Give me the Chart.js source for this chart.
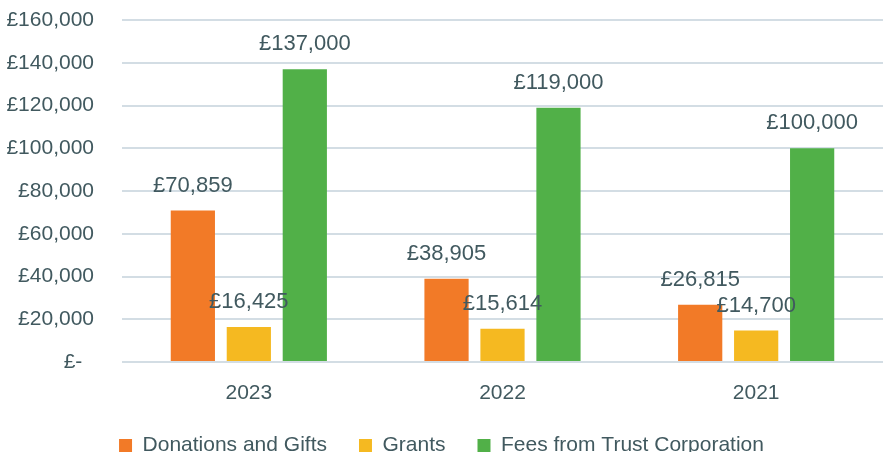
<!DOCTYPE html>
<html>
<head>
<meta charset="utf-8">
<script src="https://cdn.jsdelivr.net/npm/chart.js@4"></script>
<style>
  html, body { margin: 0; padding: 0; background: #fff; }
  #wrap { width: 883px; height: 452px; }
</style>
</head>
<body>
<div id="wrap"><canvas id="grafico"></canvas></div>
<script>
const anni = ["2023", "2022", "2021"];
const donazioni = [70859, 38905, 26815];
const contributi = [16425, 15614, 14700];
const commissioni = [137000, 119000, 100000];
const nomiSerie = ["Donations and Gifts", "Grants", "Fees from Trust Corporation"];
const coloriSerie = ["#f27a27", "#f5b921", "#51b048"];
const tickMax = 160000;
const tickStep = 20000;

const coloreTesto = "#41595f";
const fontBase = "'Liberation Sans', Arial, sans-serif";

function formatSterline(v) {
  if (v === 0) return "£-  ";
  return "£" + v.toLocaleString("en-GB");
}

// etichette sopra le barre
const etichetteBarre = {
  id: "etichetteBarre",
  afterDatasetsDraw(chart) {
    const ctx = chart.ctx;
    ctx.save();
    ctx.font = "22px " + fontBase;
    ctx.fillStyle = coloreTesto;
    ctx.textAlign = "center";
    ctx.textBaseline = "middle";
    chart.data.datasets.forEach((ds, i) => {
      const meta = chart.getDatasetMeta(i);
      meta.data.forEach((bar, j) => {
        ctx.fillText(formatSterline(ds.data[j]), bar.x, bar.y - 25);
      });
    });
    ctx.restore();
  },
};

let myChart;
let ctx = document.getElementById("grafico").getContext("2d");

myChart = new Chart(ctx, {
  type: "bar",
  data: {
    labels: anni,
    datasets: [donazioni, contributi, commissioni].map((d, i) => ({
      label: nomiSerie[i],
      data: d,
      backgroundColor: coloriSerie[i],
      borderWidth: 0,
      categoryPercentage: 0.662,
      barPercentage: 0.79,
    })),
  },
  options: {
    responsive: true,
    maintainAspectRatio: false,
    animation: false,
    layout: {
      padding: { top: 20, right: 0, left: 0, bottom: 0 },
    },
    plugins: {
      tooltip: { enabled: false },
      legend: {
        position: "bottom",
        maxHeight: 49,
        labels: {
          boxWidth: 13,
          boxHeight: 13,
          padding: 32,
          color: coloreTesto,
          font: { family: fontBase, size: 21, lineHeight: 0.9 },
        },
      },
    },
    scales: {
      x: {
        grid: { display: false, drawTicks: false },
        border: { display: false },
        ticks: {
          color: coloreTesto,
          padding: 19,
          font: { family: fontBase, size: 21 },
        },
        afterFit(s) {
          s.height = 41;
        },
      },
      y: {
        min: 0,
        max: tickMax,
        border: { display: false },
        grid: {
          color: "#d3dde4",
          lineWidth: 2,
          drawTicks: true,
          tickLength: 24,
          tickColor: "rgba(0,0,0,0)",
        },
        ticks: {
          stepSize: tickStep,
          color: coloreTesto,
          padding: 4,
          font: { family: fontBase, size: 21 },
          callback: (v) => formatSterline(v),
        },
        afterFit(s) {
          s.width = 122;
        },
      },
    },
  },
  plugins: [etichetteBarre],
});
</script>
</body>
</html>
